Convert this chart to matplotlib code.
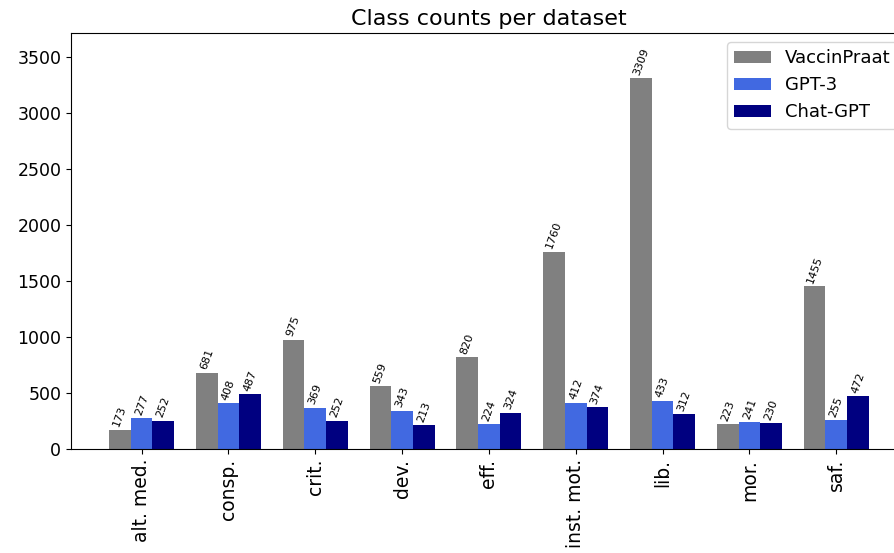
import numpy as np
import matplotlib.pyplot as plt

categories = ['alt. med.', 'consp.', 'crit.', 'dev.', 'eff.', 'inst. mot.', 'lib.', 'mor.', 'saf.']
vaccinpraat = [173, 681, 975, 559, 820, 1760, 3309, 223, 1455]
gpt3 = [277, 408, 369, 343, 224, 412, 433, 241, 255]
chatgpt = [252, 487, 252, 213, 324, 374, 312, 230, 472]

series = [('VaccinPraat', vaccinpraat, 'grey'),
          ('GPT-3', gpt3, 'royalblue'),
          ('Chat-GPT', chatgpt, 'navy')]

fig = plt.figure(figsize=(8.94, 5.53), dpi=100)
# the original picture is cropped on the right, so the axes run past the figure edge
ax = fig.add_axes([0.0794, 0.188, 0.935, 0.752])

x = np.arange(len(categories))
width = 0.25
for i, (name, vals, color) in enumerate(series):
    bars = ax.bar(x + (i - 1) * width, vals, width, label=name, color=color)
    for b, v in zip(bars, vals):
        ax.text(b.get_x() + b.get_width() / 2, b.get_height() + 15, str(v),
                ha='center', va='bottom', rotation=70, fontsize=8)

ax.set_xticks(x)
ax.set_xticklabels(categories, rotation=90, fontsize=13.5)
ax.tick_params(axis='y', labelsize=12.5)
ax.set_ylim(0, 3710)
ax.set_title('Class counts per dataset', fontsize=16)
ax.legend(loc='upper right', fontsize=13)

fig.savefig('out.png', dpi=100)
